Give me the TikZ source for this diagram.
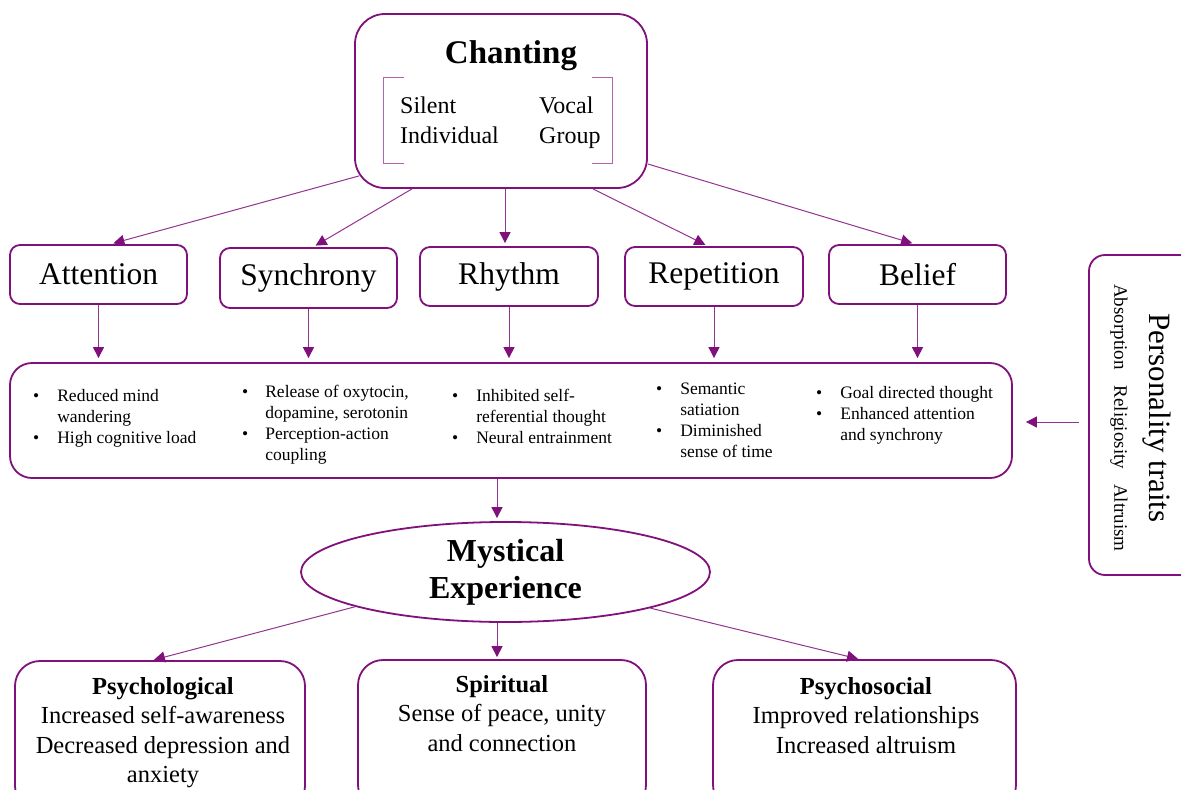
\documentclass[tikz,border=0pt]{standalone}
\usepackage{fontspec}
\setmainfont{Liberation Serif}
\usetikzlibrary{positioning,calc,shapes.geometric,arrows.meta}
\definecolor{plum}{RGB}{128,16,124}
\definecolor{lightplum}{RGB}{178,98,174}

\begin{document}
\begin{tikzpicture}[x=1pt,y=-1pt,
  frame/.style={draw=plum,line width=1.8pt,fill=white,rounded corners=#1,inner sep=0pt},
  frame/.default=10pt,
  arr/.style={draw=plum!85,line width=1pt,shorten >=3pt,-{Triangle[length=11pt,width=11pt,color=plum]}},
  topic/.style={frame,minimum width=177pt,minimum height=59pt,font=\fontsize{31.5}{36}\selectfont},
  outcome/.style={frame=25pt,minimum height=150pt},
  outcome text/.style={anchor=base,align=center,inner sep=0pt,font=\fontsize{24.5}{29.5}\selectfont},
  mech text/.style={anchor=base west,inner sep=0pt,font=\fontsize{17.5}{21}\selectfont}]
\path[fill=white] (0,0) rectangle (1181,790);
\useasboundingbox (0,0) rectangle (1181,790);

% chanting
\node[frame=30pt,minimum width=292pt,minimum height=174pt] (chant) at (501,101) {};
\node[anchor=base,inner sep=0pt,font=\bfseries\fontsize{33}{40}\selectfont] (chant title) at (511,63) {Chanting};
\draw[lightplum,line width=1pt] (404,77) -- (383,77) -- (383,163) -- (404,163);
\draw[lightplum,line width=1pt] (592,77) -- (612,77) -- (612,163) -- (592,163);
% base = last line
\node[anchor=base west,align=left,inner sep=0pt,font=\fontsize{24}{30}\selectfont] (modes left) at (400,143) {Silent\\Individual};
\node[anchor=base west,align=left,inner sep=0pt,font=\fontsize{24}{30}\selectfont] (modes right) at (539,143) {Vocal\\Group};

% components
\node[topic] (att) at (98.5,274.5) {Attention};
\node[topic,minimum height=60pt] (syn) at (308.5,278) {Synchrony};
\node[topic,minimum width=178pt] (rhy) at (509,276.5) {Rhythm};
\node[topic,minimum width=178pt] (rep) at (714,276.5) {Repetition};
\node[topic] (bel) at (917.5,274.5) {Belief};

\draw[arr] ($(chant.south west)+(5,-13)$) -- ($(att.north)+(12,0)$);
\draw[arr] ($(chant.south)+(-89,0)$) -- ($(syn.north)+(4.5,0)$);
\draw[arr] ($(chant.south)+(4,0)$) -- ($(rhy.north)+(-4,0)$);
\draw[arr] ($(chant.south)+(92,0)$) -- ($(rep.north)+(-6,0)$);
\draw[arr] ($(chant.east)+(0,63)$) -- ($(bel.north)+(-2.5,0)$);

% mechanisms
\node[frame=22pt,minimum width=1002pt,minimum height=115pt] (mech) at (511,420.5) {};
\foreach \t in {att,syn,rhy,rep,bel}
  \draw[arr,shorten >=4pt] (\t.south) -- (\t.south |- mech.north);

\node[mech text] (att mech) at (33,401.5) {\begin{tabular}[t]{@{}l@{\hspace{18pt}}l@{}}
\textbullet&Reduced mind\\&wandering\\\textbullet&High cognitive load\end{tabular}};
\node[mech text] (syn mech) at (242,397.5) {\begin{tabular}[t]{@{}l@{\hspace{17pt}}l@{}}
\textbullet&Release of oxytocin,\\&dopamine, serotonin\\\textbullet&Perception-action\\&coupling\end{tabular}};
\node[mech text] (rhy mech) at (452,401.5) {\begin{tabular}[t]{@{}l@{\hspace{18pt}}l@{}}
\textbullet&Inhibited self-\\&referential thought\\\textbullet&Neural entrainment\end{tabular}};
\node[mech text] (rep mech) at (656,394.5) {\begin{tabular}[t]{@{}l@{\hspace{18pt}}l@{}}
\textbullet&Semantic\\&satiation\\\textbullet&Diminished\\&sense of time\end{tabular}};
\node[mech text] (bel mech) at (816,398.5) {\begin{tabular}[t]{@{}l@{\hspace{18pt}}l@{}}
\textbullet&Goal directed thought\\\textbullet&Enhanced attention\\&and synchrony\end{tabular}};

% personality traits
\node[frame=16pt,minimum width=121pt,minimum height=320pt] (pers) at (1149.5,415) {};
\node[rotate=-90,inner sep=0pt,font=\fontsize{31}{36}\selectfont] (pers title) at (1157,418) {Personality traits};
\node[rotate=-90,inner sep=0pt,font=\fontsize{19}{23}\selectfont] (pers list) at (1119,418) {Absorption\hspace{16pt}Religiosity\hspace{15pt}Altruism};
\draw[arr,shorten >=0pt] ($(pers.west)+(-9,7)$) -- ($(mech.east)+(13,1.5)$);

% mystical experience
\node[ellipse,draw=plum,line width=1.8pt,fill=white,inner sep=0pt,minimum width=409pt,minimum height=100pt,
  align=center,font=\bfseries\fontsize{32}{37}\selectfont] (myst) at (505.5,572) {Mystical\\Experience};
\draw[arr] ($(mech.south)+(-14,0)$) -- ($(myst.north)+(-8.5,0)$);

% outcomes
\node[outcome,minimum width=290pt] (psy) at (160,736) {};
\node[outcome,minimum width=288pt] (spi) at (502,735) {};
\node[outcome,minimum width=303pt] (psc) at (864.5,735) {};
\node[outcome text] (psy text) at (163,782.5) {\textbf{Psychological}\\Increased self-awareness\\Decreased depression and\\anxiety};
\node[outcome text] (spi text) at (502,751) {\textbf{Spiritual}\\Sense of peace, unity\\and connection};
\node[outcome text] (psc text) at (866,753) {\textbf{Psychosocial}\\Improved relationships\\Increased altruism};

\draw[arr,shorten >=1pt] (myst.193.5) -- ($(psy.north)+(-7,0)$);
\draw[arr,shorten >=2pt] ($(myst.south)+(-8.5,0)$) -- ($(spi.north)+(-5,0)$);
\draw[arr,shorten >=1pt] (myst.346.6) -- ($(psc.north)+(-5.5,0)$);
\end{tikzpicture}
\end{document}
